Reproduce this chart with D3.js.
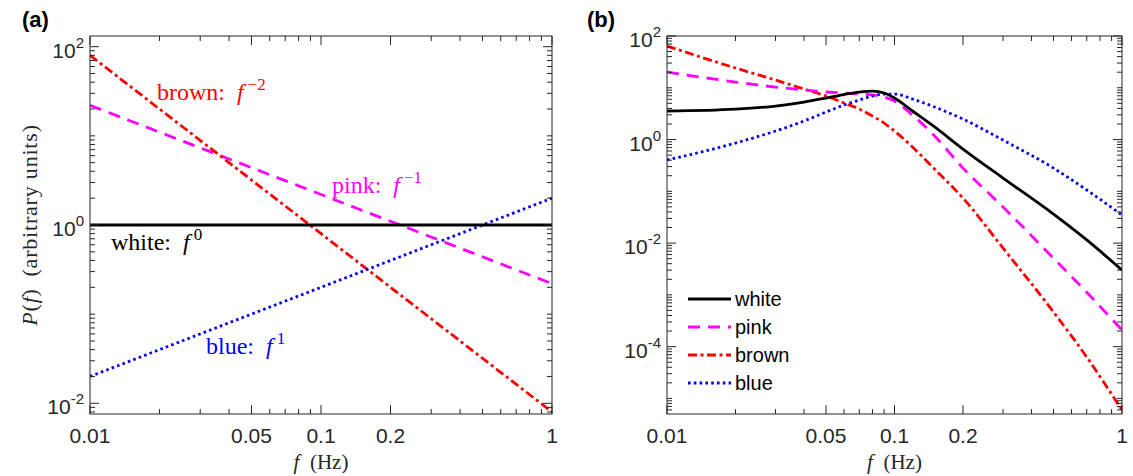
<!DOCTYPE html>
<html>
<head>
<meta charset="utf-8">
<script src="https://cdn.jsdelivr.net/npm/d3@7"></script>
<style>
  html, body { margin: 0; padding: 0; background: #fff; }
  svg { display: block; }
</style>
</head>
<body>
<svg id="chart" width="1133" height="476"></svg>
<script>
// ---- Panel (a): ideal power-law spectra (straight lines on log-log axes) ----
const idealFreq  = [0.01, 1];
const idealWhite = [1, 1];
const idealPink  = [22, 0.22];
const idealBrown = [80, 0.008];
const idealBlue  = [0.02, 2];

// ---- Panel (b): filtered spectra ----
const freqB  = [0.01, 0.02, 0.03, 0.04, 0.05, 0.06, 0.07, 0.08, 0.09, 0.1, 0.12, 0.15, 0.2, 0.3, 0.5, 0.7, 1];
const whiteB = [3.56, 3.88, 4.44, 5.30, 6.34, 7.41, 8.28, 8.65, 7.92, 6.34, 3.56, 1.75, 0.655, 0.180, 0.0363, 0.0115, 0.0030];
const pinkB  = [20.1, 12.9, 10.3, 9.05, 8.28, 7.92, 7.57, 7.24, 6.62, 5.54, 2.97, 1.17, 0.281, 0.0497, 0.0051, 0.00112, 0.000208];
const brownB = [64, 24.1, 14.1, 9.47, 6.93, 5.07, 3.88, 2.84, 2.08, 1.46, 0.716, 0.269, 0.0741, 0.0080, 0.000465, 0.0000627, 0.00000593];
const blueB  = [0.402, 0.855, 1.46, 2.28, 3.40, 4.64, 5.80, 6.93, 7.57, 7.57, 6.07, 4.25, 2.49, 0.977, 0.281, 0.106, 0.0348];

// ---- Tick labels ----
const xTickValues = [0.01, 0.05, 0.1, 0.2, 1];
const xTickLabels = ["0.01", "0.05", "0.1", "0.2", "1"];
const yTickExpA = [2, 0, -2];
const yTickExpB = [2, 0, -2, -4];

const legendNames = ["white", "pink", "brown", "blue"];

const styles = {
  white: { color: "#000000", dash: null },
  pink:  { color: "#FF00FF", dash: "12,8" },
  brown: { color: "#FF0000", dash: "9,3.5,3,3.5" },
  blue:  { color: "#0000FF", dash: "2.6,3.2" }
};

const AXIS_COLOR = "#262626";
const TICK_FONT = "'Liberation Sans', Arial, Helvetica, sans-serif";
const SERIF = "'Liberation Serif', 'Times New Roman', serif";
const LW = 2.8;

const svg = d3.select("#chart");

function panel(opts) {
  const { left, right, top, bottom, yDomain, yExps } = opts;
  const x = d3.scaleLog().domain([0.01, 1]).range([left, right]);
  const y = d3.scaleLog().domain(yDomain).range([bottom, top]);
  const g = svg.append("g");

  // minor/major tick positions
  const xMinor = [];
  for (let e = -2; e <= -1; e++) for (let k = 1; k <= 9; k++) {
    const v = k * Math.pow(10, e);
    if (v >= 0.01 && v <= 1 && !xTickValues.some(t => Math.abs(t - v) < 1e-9)) xMinor.push(v);
  }
  const yMajor = yExps.map(e => Math.pow(10, e));
  const yMinor = [];
  const lo = Math.floor(Math.log10(yDomain[0])), hi = Math.ceil(Math.log10(yDomain[1]));
  for (let e = lo; e <= hi; e++) for (let k = 1; k <= 9; k++) {
    const v = k * Math.pow(10, e);
    if (v >= yDomain[0] && v <= yDomain[1] && !yMajor.some(t => Math.abs(Math.log10(t) - Math.log10(v)) < 1e-9)) yMinor.push(v);
  }

  const clipId = "clip" + left;
  svg.append("clipPath").attr("id", clipId)
    .append("rect").attr("x", left).attr("y", top).attr("width", right - left).attr("height", bottom - top);

  const plot = g.append("g").attr("clip-path", `url(#${clipId})`);

  const ticks = g.append("g").attr("stroke", AXIS_COLOR).attr("stroke-width", 1);
  const MAJ = 9, MIN = 5;
  xTickValues.forEach(v => {
    const px = x(v);
    ticks.append("line").attr("x1", px).attr("x2", px).attr("y1", bottom).attr("y2", bottom - MAJ);
    ticks.append("line").attr("x1", px).attr("x2", px).attr("y1", top).attr("y2", top + MAJ);
  });
  xMinor.forEach(v => {
    const px = x(v);
    ticks.append("line").attr("x1", px).attr("x2", px).attr("y1", bottom).attr("y2", bottom - MIN);
    ticks.append("line").attr("x1", px).attr("x2", px).attr("y1", top).attr("y2", top + MIN);
  });
  yMajor.forEach(v => {
    const py = y(v);
    ticks.append("line").attr("x1", left).attr("x2", left + MAJ).attr("y1", py).attr("y2", py);
    ticks.append("line").attr("x1", right).attr("x2", right - MAJ).attr("y1", py).attr("y2", py);
  });
  yMinor.forEach(v => {
    const py = y(v);
    ticks.append("line").attr("x1", left).attr("x2", left + MIN).attr("y1", py).attr("y2", py);
    ticks.append("line").attr("x1", right).attr("x2", right - MIN).attr("y1", py).attr("y2", py);
  });

  // x tick labels
  xTickValues.forEach((v, i) => {
    g.append("text").attr("x", x(v)).attr("y", bottom + 29)
      .attr("text-anchor", "middle").attr("font-family", TICK_FONT)
      .attr("font-size", 21).attr("fill", AXIS_COLOR).text(xTickLabels[i]);
  });
  // y tick labels: 10^n
  yExps.forEach(e => {
    const t = g.append("text").attr("x", left - 6).attr("y", y(Math.pow(10, e)) + 11)
      .attr("text-anchor", "end").attr("font-family", TICK_FONT)
      .attr("font-size", 21).attr("fill", AXIS_COLOR);
    t.append("tspan").text("10");
    t.append("tspan").attr("dy", -10).attr("font-size", 15).text(String(e));
  });

  // x axis label
  const xl = g.append("text").attr("x", (left + right) / 2).attr("y", 469)
    .attr("text-anchor", "middle").attr("font-family", SERIF).attr("font-size", 21).attr("fill", AXIS_COLOR);
  xl.append("tspan").attr("font-style", "italic").text("f");
  xl.append("tspan").text("\u2002(Hz)");

  return { x, y, g, plot, frame: () => {
    g.append("rect").attr("x", left).attr("y", top).attr("width", right - left).attr("height", bottom - top)
      .attr("fill", "none").attr("stroke", AXIS_COLOR).attr("stroke-width", 1);
  }};
}

function drawSeries(p, freqs, vals, key, curve) {
  const line = d3.line().x((d, i) => p.x(freqs[i])).y(d => p.y(d)).curve(curve || d3.curveLinear);
  p.plot.append("path").datum(vals)
    .attr("d", line)
    .attr("fill", "none")
    .attr("stroke", styles[key].color)
    .attr("stroke-width", LW)
    .attr("stroke-dasharray", styles[key].dash);
}

// ---------- Panel (a) ----------
const pa = panel({ left: 90, right: 552, top: 36, bottom: 414,
  yDomain: [Math.pow(10, -2.12), Math.pow(10, 2.12)], yExps: yTickExpA });
drawSeries(pa, idealFreq, idealPink, "pink");
drawSeries(pa, idealFreq, idealBrown, "brown");
drawSeries(pa, idealFreq, idealBlue, "blue");
drawSeries(pa, idealFreq, idealWhite, "white");
pa.frame();

// y axis label
const yl = pa.g.append("text").attr("transform", "translate(37,225) rotate(-90)")
  .attr("text-anchor", "middle").attr("font-family", SERIF).attr("font-size", 22)
  .attr("letter-spacing", 0.8).attr("fill", AXIS_COLOR);
yl.append("tspan").attr("font-style", "italic").text("P");
yl.append("tspan").text("(");
yl.append("tspan").attr("font-style", "italic").text("f");
yl.append("tspan").text(")\u2002(arbitrary units)");

// annotations
function annot(xp, yp, name, exp, color) {
  const t = pa.g.append("text").attr("x", xp).attr("y", yp)
    .attr("font-family", SERIF).attr("font-size", 24).attr("fill", color);
  t.append("tspan").text(name + ":\u2002");
  t.append("tspan").attr("font-style", "italic").text("f");
  t.append("tspan").attr("dy", -10).attr("dx", 4).attr("font-size", 17).text(exp);
}
annot(157, 100, "brown", "\u22122", styles.brown.color);
annot(332, 193, "pink", "\u22121", styles.pink.color);
annot(111, 250, "white", "0", styles.white.color);
annot(206, 354, "blue", "1", styles.blue.color);

// ---------- Panel (b) ----------
const pb = panel({ left: 667, right: 1122, top: 36, bottom: 414,
  yDomain: [5e-6, 100], yExps: yTickExpB });
drawSeries(pb, freqB, brownB, "brown", d3.curveMonotoneX);
drawSeries(pb, freqB, pinkB, "pink", d3.curveMonotoneX);
drawSeries(pb, freqB, blueB, "blue", d3.curveMonotoneX);
drawSeries(pb, freqB, whiteB, "white", d3.curveMonotoneX);
pb.frame();

// legend
const seriesKeys = ["white", "pink", "brown", "blue"];
const leg = pb.g.append("g");
seriesKeys.forEach((k, i) => {
  const yy = 299 + i * 28;
  leg.append("line").attr("x1", 688).attr("x2", 731).attr("y1", yy).attr("y2", yy)
    .attr("stroke", styles[k].color).attr("stroke-width", LW)
    .attr("stroke-dasharray", styles[k].dash);
  leg.append("text").attr("x", 735).attr("y", yy + 7)
    .attr("font-family", TICK_FONT).attr("font-size", 20).attr("fill", "#000").text(legendNames[i]);
});

// panel letters
svg.append("text").attr("x", 22).attr("y", 27).attr("font-family", TICK_FONT)
  .attr("font-weight", "bold").attr("font-size", 22).attr("fill", "#000").text("(a)");
svg.append("text").attr("x", 587).attr("y", 27).attr("font-family", TICK_FONT)
  .attr("font-weight", "bold").attr("font-size", 22).attr("fill", "#000").text("(b)");
</script>
</body>
</html>
